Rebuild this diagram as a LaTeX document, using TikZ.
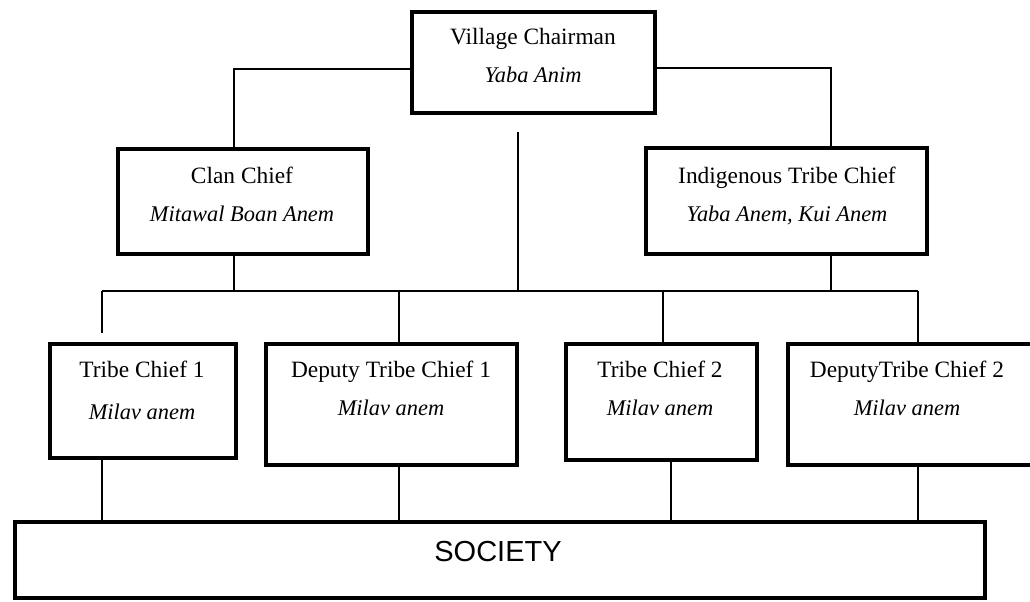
\documentclass[tikz,border=0pt]{standalone}
\usepackage{fontspec}
\setmainfont{Liberation Serif}
\newfontfamily\societyfont{Liberation Sans}

\tikzset{
    chiefbox/.style={draw,line width=2.25pt,inner sep=0pt},
    chieftext/.style={align=center,inner sep=0pt,anchor=north,font=\fontsize{11.7}{19}\selectfont},
    link/.style={line width=0.7pt}
}
\newcommand{\anem}[1]{{\itshape\fontsize{11.2}{19}\selectfont #1}}

\begin{document}
\begin{tikzpicture}[
        x=0.5pt,
        y=-0.5pt
    ]
    \useasboundingbox (0,0) rectangle (1030,601);
    \begin{scope}
        \node[chiefbox,minimum width=121.5pt,minimum height=50.5pt] (chair) at (533.5,62.5) {};
        \node[chieftext] (chairtext) at (533,27.5) {Village Chairman\\\anem{Yaba Anim}};
        \node[chiefbox,minimum width=125pt,minimum height=52.5pt] (clan) at (243,201.5) {};
        \node[chieftext] (clantext) at (242,166.5) {Clan Chief\\\anem{Mitawal Boan Anem}};
        \node[chiefbox,minimum width=140.5pt,minimum height=53pt] (indig) at (786.5,201) {};
        \node[chieftext] (indigtext) at (787,166.5) {Indigenous Tribe Chief\\\anem{Yaba Anem, Kui Anem}};
    \end{scope}
    \begin{scope}
        \node[chiefbox,minimum width=93pt,minimum height=57pt] (tca) at (143,401) {};
        \node[chieftext] (tcatext) at (142,360.5) {Tribe Chief 1\\[2pt]\anem{Milav anem}};
        \node[chiefbox,minimum width=125.5pt,minimum height=60.5pt] (tcb) at (391.5,404.5) {};
        \node[chieftext] (tcbtext) at (391,360.5) {Deputy Tribe Chief 1\\\anem{Milav anem}};
        \node[chiefbox,minimum width=95.5pt,minimum height=58pt] (tcc) at (661.5,402) {};
        \node[chieftext] (tcctext) at (660,360.5) {Tribe Chief 2\\\anem{Milav anem}};
        \node[chiefbox,minimum width=126pt,minimum height=60.5pt] (tcd) at (914,404.5) {};
        \node[chieftext] (tcdtext) at (907,360.5) {DeputyTribe Chief 2\\\anem{Milav anem}};
    \end{scope}
    \node[chiefbox,minimum width=485pt,minimum height=38pt] (society) at (500,560) {};
    \node[inner sep=0pt,font=\societyfont\fontsize{14.5}{17}\selectfont] (societytext) at (498,552) {SOCIETY};
    \coordinate (clanjoin) at (234,291);
    \coordinate (indigjoin) at (831,291);
    \coordinate (midtop) at (518,132);
    \coordinate (midjoin) at (518,291);
    \coordinate (busa) at (102,291);
    \coordinate (busb) at (399,291);
    \coordinate (busc) at (663,291);
    \coordinate (busd) at (918,291);
    \coordinate (tcatop) at (102,333);
    \coordinate (downc) at (671,522);
    \draw[link] ([yshift=-3.25pt]chair.west) -| (clan.north -| clanjoin);
    \draw[link] ([yshift=-2.75pt]chair.east) -| (indig.north -| indigjoin);
    \draw[link] (midtop) -- (midjoin);
    \draw[link] (clan.south -| clanjoin) -- (clanjoin);
    \draw[link] (indig.south -| indigjoin) -- (indigjoin);
    \draw[link] (busa) -- (busd);
    \draw[link] (busa) -- (tcatop);
    \draw[link] (busb) -- (busb |- tcb.north);
    \draw[link] (busc) -- (busc |- tcc.north);
    \draw[link] (busd) -- (busd |- tcd.north);
    \draw[link] (tca.south -| busa) -- (society.north -| busa);
    \draw[link] (tcb.south -| busb) -- (society.north -| busb);
    \draw[link] (tcc.south -| downc) -- (society.north -| downc);
    \draw[link] (tcd.south -| busd) -- (society.north -| busd);
\end{tikzpicture}
\end{document}
